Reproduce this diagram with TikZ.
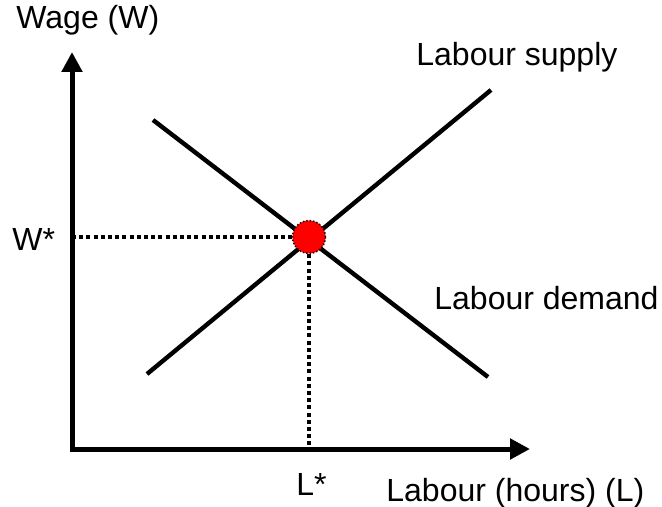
\documentclass[tikz,border=0pt]{standalone}
\usepackage{fontspec}
\setmainfont{Liberation Sans}
\usetikzlibrary{arrows.meta}
\begin{document}
\begin{tikzpicture}[x=0.5pt,y=-0.5pt,
  lbl/.style={font=\fontsize{16}{19}\selectfont, inner sep=0pt, anchor=base west},
  axis/.style={line width=2.5pt, -{Triangle[length=10pt,width=10pt]}},
  curve/.style={line width=2.2pt},
  guide/.style={line width=1.6pt, dash pattern=on 2pt off 1.6pt},
  eq/.style={circle, fill=red, draw=black, densely dotted, line width=0.7pt, minimum size=16.5pt, inner sep=0pt}]
\useasboundingbox (0,0) rectangle (662,507);
\coordinate (O) at (72,449);
\coordinate (Ytip) at (72,52);
\coordinate (Xtip) at (530,449);
\coordinate (S1) at (147,374);
\coordinate (S2) at (491,90);
\coordinate (D1) at (153,120);
\coordinate (D2) at (488,377);
\coordinate (Wy) at (72,237);
\coordinate (Lx) at (309,449);
\draw[axis] ([yshift=1.25pt]O) -- (Ytip);
\draw[axis] ([xshift=-1.25pt]O) -- (Xtip);
\draw[curve] (S1) -- (S2);
\draw[curve] (D1) -- (D2);
\node[eq] (E) at (309,237) {};
\draw[guide] (Wy) -- (E.west);
\draw[guide] (E.south) -- (Lx);
\node[lbl] (wage) at (16,29) {Wage (W)};
\node[lbl] (supply) at (416,66) {Labour supply};
\node[lbl] (wstar) at (12,250) {W*};
\node[lbl] (demand) at (434,309) {Labour demand};
\node[lbl] (lstar) at (296,495) {L*};
\node[lbl] (labour) at (386,501) {Labour (hours) (L)};
\end{tikzpicture}
\end{document}
